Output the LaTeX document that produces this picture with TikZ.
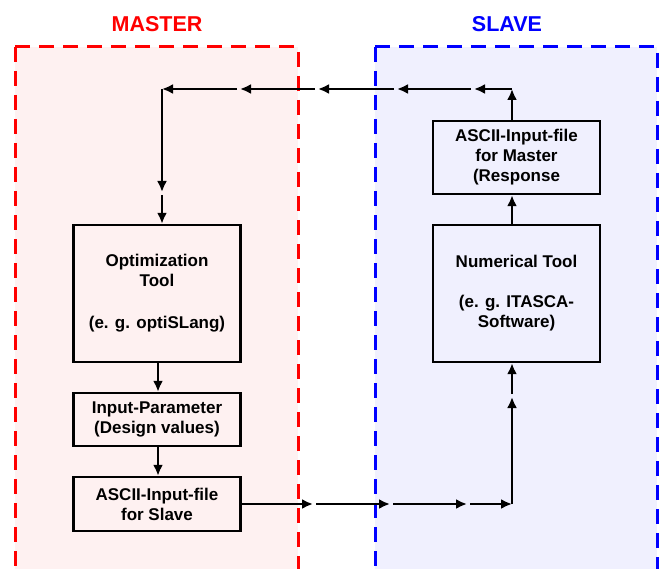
\documentclass[tikz,border=0pt]{standalone}
\usepackage{fontspec}
\setmainfont{Liberation Sans}
\usetikzlibrary{arrows.meta,calc}
\definecolor{mfill}{RGB}{254,241,241}
\definecolor{sfill}{RGB}{240,240,254}
\definecolor{mred}{RGB}{255,0,0}
\definecolor{sblue}{RGB}{0,0,255}
\begin{document}
\begin{tikzpicture}[x=1pt,y=-1pt,
  box/.style={draw=black,line width=2.4pt,align=center,inner sep=0pt,minimum width=167pt,font=\fontsize{17}{20}\selectfont\bfseries},
  arr/.style={line width=2.4pt,-{Latex[length=11pt,width=10pt]}},
  zone/.style={line width=3pt,dash pattern=on 15pt off 9pt},
  head/.style={font=\fontsize{21.5}{24}\selectfont\bfseries,anchor=base,inner sep=0pt}]
\clip (0,0) rectangle (668,569);
% zones
\fill[mfill] (15,47) rectangle (298,580);
\fill[sfill] (375,47) rectangle (657,580);
\draw[zone,mred] (15,47) -- (15,580);
\draw[zone,mred] (15,47) -- (298,47) -- (298,580);
\draw[zone,sblue] (375,47) -- (375,580);
\draw[zone,sblue] (375,47) -- (657,47) -- (657,580);
\node[head,text=mred] (hm) at (157,32) {MASTER};
\node[head,text=sblue] (hs) at (507,32) {SLAVE};
% boxes
\node[box,minimum height=137pt] (opt) at (157,293.5) {Optimization\\Tool\\[22pt](e. g. optiSLang)};
\node[box,minimum height=53pt] (inp) at (157,419.5) {Input-Parameter\\(Design values)};
\node[box,minimum height=54pt] (as) at (157,504) {ASCII-Input-file\\for Slave};
\node[box,minimum height=73pt] (am) at (516.5,157.5) {ASCII-Input-file\\for Master\\(Response};
\node[box,minimum height=137pt] (nt) at (516.5,293.5) {Numerical Tool\\[20pt](e. g. ITASCA-\\Software)};
% connector points
\coordinate (t0) at (512,89);
\coordinate (t1) at (474,89);
\coordinate (t2) at (397,89);
\coordinate (t3) at (318,89);
\coordinate (t4) at (240,89);
\coordinate (t5) at (162,89);
\coordinate (t6) at (162,192);
\coordinate (b0) at (313,504);
\coordinate (b1) at (390,504);
\coordinate (b2) at (467,504);
\coordinate (b3) at (512,504);
\coordinate (b4) at (512,397);
% top return path
\draw[arr] (t0 |- am.north) -- (t0);
\draw[arr] (t0) -- (t1);
\draw[arr] ([xshift=-3pt]t1) -- (t2);
\draw[arr] ([xshift=-3pt]t2) -- (t3);
\draw[arr] ([xshift=-3pt]t3) -- (t4);
\draw[arr] ([xshift=-3pt]t4) -- (t5);
\draw[arr] (t5) -- (t6);
\draw[arr] ([yshift=-3pt]t6) -- (t6 |- opt.north);
% master chain
\draw[arr] ([xshift=1pt]opt.south) -- ([xshift=1pt]inp.north);
\draw[arr] ([xshift=1pt]inp.south) -- ([xshift=1pt]as.north);
% bottom path
\draw[arr] (as.east) -- (b0);
\draw[arr] ([xshift=3pt]b0) -- (b1);
\draw[arr] ([xshift=3pt]b1) -- (b2);
\draw[arr] ([xshift=3pt]b2) -- (b3);
\draw[arr] (b3) -- (b4);
\draw[arr] ([yshift=3pt]b4) -- (b4 |- nt.south);
% slave chain
\draw[arr] (t0 |- nt.north) -- (t0 |- am.south);
\end{tikzpicture}
\end{document}
